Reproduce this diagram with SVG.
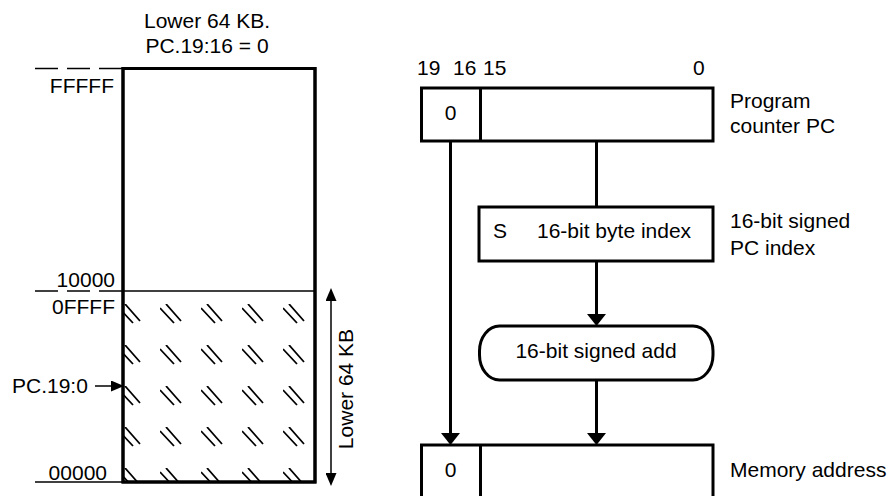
<svg xmlns="http://www.w3.org/2000/svg" width="891" height="496" viewBox="0 0 891 496">
<style>
text{font-family:"Liberation Sans",Arial,sans-serif;font-size:21px;fill:#000}
.box{fill:#fff;stroke:#000;stroke-width:3}
.thk{stroke:#000;stroke-width:3;fill:none}
.thn{stroke:#000;stroke-width:1.5;fill:none}
.hat{stroke:#000;stroke-width:1.8;fill:none}
</style>
<defs>
<marker id="ah" viewBox="0 0 12 19" refX="6" refY="9.5" markerWidth="12" markerHeight="19" orient="auto" markerUnits="userSpaceOnUse"><path d="M0,0 L12,9.5 L0,19 z" fill="#000"/></marker>
<marker id="as" viewBox="0 0 13 11" refX="3" refY="5.5" markerWidth="13" markerHeight="11" orient="auto-start-reverse" markerUnits="userSpaceOnUse"><path d="M0,0 L13,5.5 L0,11 z" fill="#000"/></marker>
<pattern id="hatch" patternUnits="userSpaceOnUse" x="160" y="304" width="41" height="41">
<path class="hat" d="M6,0 L21,17 M0,4 L14,19"/>
</pattern>
<clipPath id="lowclip"><rect x="123" y="291" width="192" height="191"/></clipPath>
</defs>

<g id="memory-map">
<rect class="box" x="123" y="68.5" width="192" height="413.5"/>
<rect x="123" y="291" width="192" height="191" fill="url(#hatch)" clip-path="url(#lowclip)"/>
<line class="thn" x1="123" y1="291" x2="315" y2="291"/>
<rect x="123" y="68.5" width="192" height="413.5" fill="none" stroke="#000" stroke-width="3"/>
<text x="207" y="28" text-anchor="middle">Lower 64 KB.</text>
<text x="207" y="53" text-anchor="middle">PC.19:16 = 0</text>
<line x1="35" y1="68.5" x2="123" y2="68.5" stroke="#000" stroke-width="1.5" stroke-dasharray="23,9"/>
<line x1="35" y1="291" x2="123" y2="291" stroke="#000" stroke-width="1.5" stroke-dasharray="23,9"/>
<line x1="35" y1="482" x2="123" y2="482" stroke="#000" stroke-width="1.5"/>
<text x="114" y="93" text-anchor="end">FFFFF</text>
<text x="115" y="287" text-anchor="end">10000</text>
<text x="115" y="314" text-anchor="end">0FFFF</text>
<text x="107" y="480" text-anchor="end">00000</text>
</g>

<g id="pc-pointer">
<text x="12" y="393">PC.19:0</text>
<line class="thn" x1="95" y1="386" x2="114" y2="386" marker-end="url(#as)"/>
</g>

<g id="lower-64kb">
<line class="thn" x1="331" y1="298" x2="331" y2="476" marker-start="url(#as)" marker-end="url(#as)"/>
<text transform="translate(353,389) rotate(-90)" text-anchor="middle">Lower 64 KB</text>
</g>

<g id="program-counter">
<text x="417" y="75">19</text>
<text x="453" y="75">16</text>
<text x="483" y="75">15</text>
<text x="693" y="75">0</text>
<rect class="box" x="421.5" y="88" width="291.5" height="53"/>
<line class="thk" x1="480.5" y1="88" x2="480.5" y2="141"/>
<text x="450.5" y="120" text-anchor="middle">0</text>
<text x="730" y="108">Program</text>
<text x="730" y="133">counter PC</text>
</g>

<g id="connectors">
<line class="thk" x1="450.5" y1="141" x2="450.5" y2="439" marker-end="url(#ah)"/>
<line class="thk" x1="596.5" y1="141" x2="596.5" y2="207"/>
<line class="thk" x1="596.5" y1="261" x2="596.5" y2="320" marker-end="url(#ah)"/>
<line class="thk" x1="596.5" y1="380" x2="596.5" y2="439" marker-end="url(#ah)"/>
</g>

<g id="pc-index">
<rect class="box" x="479" y="207" width="234" height="54"/>
<text x="493" y="238">S</text>
<text x="537" y="238">16-bit byte index</text>
<text x="730" y="228">16-bit signed</text>
<text x="730" y="255">PC index</text>
</g>

<g id="signed-add">
<rect class="box" x="479.5" y="326" width="233.5" height="54" rx="20" ry="25"/>
<text x="596" y="358" text-anchor="middle">16-bit signed add</text>
</g>

<g id="memory-address">
<rect class="box" x="421.5" y="445" width="291.5" height="60"/>
<line class="thk" x1="480.5" y1="445" x2="480.5" y2="500"/>
<text x="450.5" y="477" text-anchor="middle">0</text>
<text x="730" y="477">Memory address</text>
</g>
</svg>
